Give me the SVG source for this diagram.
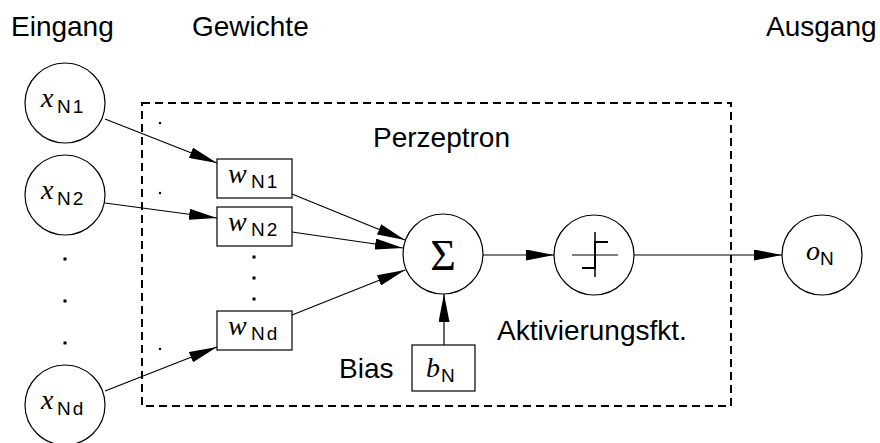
<svg xmlns="http://www.w3.org/2000/svg" width="880" height="443" viewBox="0 0 880 443">
<style>
.lbl{font-family:"Liberation Sans",Arial,sans-serif;font-size:28px;fill:#000}
.mi{font-family:"Liberation Serif","Times New Roman",serif;font-style:italic;font-size:28px;fill:#000}
.sub{font-family:"Liberation Sans",Arial,sans-serif;font-size:19px;letter-spacing:2px;fill:#000}
.node{fill:#fff;stroke:#000;stroke-width:1.2}
.conn{stroke:#000;stroke-width:1.2;fill:none}
.dot{fill:#000}
</style>
<defs>
<marker id="ah" viewBox="0 0 28 11" refX="28" refY="5.5" markerWidth="28" markerHeight="11" markerUnits="userSpaceOnUse" orient="auto">
<path d="M0,0 L28,5.5 L0,11 z" fill="#000"/>
</marker>
</defs>
<rect width="880" height="443" fill="#fff"/>
<g id="perceptron-box">
<rect x="142" y="103" width="589" height="303" fill="none" stroke="#000" stroke-width="2" stroke-dasharray="8,5"/>
</g>
<g id="labels">
<text class="lbl" x="11" y="36">Eingang</text>
<text class="lbl" x="192" y="36">Gewichte</text>
<text class="lbl" x="766" y="36">Ausgang</text>
<text class="lbl" x="373" y="147">Perzeptron</text>
<text class="lbl" x="497" y="340">Aktivierungsfkt.</text>
<text class="lbl" x="339" y="378">Bias</text>
</g>
<g id="dots">
<rect class="dot" x="63.5" y="257.5" width="3" height="3"/>
<rect class="dot" x="63.5" y="299.5" width="3" height="3"/>
<rect class="dot" x="63.5" y="341.5" width="3" height="3"/>
<rect class="dot" x="252.5" y="255.5" width="3" height="3"/>
<rect class="dot" x="252.5" y="276.5" width="3" height="3"/>
<rect class="dot" x="252.5" y="297.5" width="3" height="3"/>
<circle class="dot" cx="160" cy="123" r="1.2"/>
<circle class="dot" cx="160" cy="193" r="1.2"/>
<circle class="dot" cx="160" cy="349" r="1.2"/>
</g>
<g id="connectors">
<line class="conn" x1="105" y1="119" x2="217" y2="163" marker-end="url(#ah)"/>
<line class="conn" x1="105" y1="203" x2="217" y2="218" marker-end="url(#ah)"/>
<line class="conn" x1="105" y1="391" x2="217" y2="347" marker-end="url(#ah)"/>
<line class="conn" x1="292" y1="194" x2="405" y2="240" marker-end="url(#ah)"/>
<line class="conn" x1="292" y1="232" x2="403" y2="248" marker-end="url(#ah)"/>
<line class="conn" x1="292" y1="315" x2="405" y2="270" marker-end="url(#ah)"/>
<line class="conn" x1="483" y1="255" x2="554" y2="255" marker-end="url(#ah)"/>
<line class="conn" x1="634" y1="255" x2="782" y2="255" marker-end="url(#ah)"/>
<line class="conn" x1="444" y1="345" x2="444" y2="294" marker-end="url(#ah)"/>
</g>
<g id="x1">
<circle class="node" cx="65" cy="103" r="40"/>
<text class="mi" x="41" y="107">x</text><text class="sub" x="57" y="113">N1</text>
</g>
<g id="x2">
<circle class="node" cx="65" cy="195" r="40"/>
<text class="mi" x="41" y="199">x</text><text class="sub" x="57" y="205">N2</text>
</g>
<g id="xd">
<circle class="node" cx="65" cy="405" r="40"/>
<text class="mi" x="41" y="409">x</text><text class="sub" x="57" y="415">Nd</text>
</g>
<g id="w1">
<rect class="node" x="217" y="159" width="75" height="39"/>
<text class="mi" x="228" y="183">w</text><text class="sub" x="251" y="188">N1</text>
</g>
<g id="w2">
<rect class="node" x="217" y="207" width="75" height="39"/>
<text class="mi" x="228" y="231">w</text><text class="sub" x="251" y="236">N2</text>
</g>
<g id="wd">
<rect class="node" x="217" y="311" width="75" height="39"/>
<text class="mi" x="228" y="335">w</text><text class="sub" x="251" y="340">Nd</text>
</g>
<g id="sum">
<circle class="node" cx="443" cy="254" r="40"/>
<text x="443" y="270" text-anchor="middle" font-family="'Liberation Serif','Times New Roman',serif" font-size="44">Σ</text>
</g>
<g id="activation">
<circle class="node" cx="594" cy="255" r="40"/>
<line x1="572" y1="255" x2="618" y2="255" stroke="#000" stroke-width="1"/>
<path d="M582,268 H595 V242 H608" fill="none" stroke="#000" stroke-width="2"/>
<line x1="595" y1="232" x2="595" y2="277" stroke="#000" stroke-width="1.5"/>
</g>
<g id="output">
<circle class="node" cx="822" cy="255" r="40"/>
<text class="mi" x="806" y="260">o</text><text class="sub" x="820" y="265">N</text>
</g>
<g id="bias">
<rect class="node" x="412" y="345" width="63" height="46"/>
<text class="mi" x="426" y="377">b</text><text class="sub" x="441" y="382">N</text>
</g>
</svg>
